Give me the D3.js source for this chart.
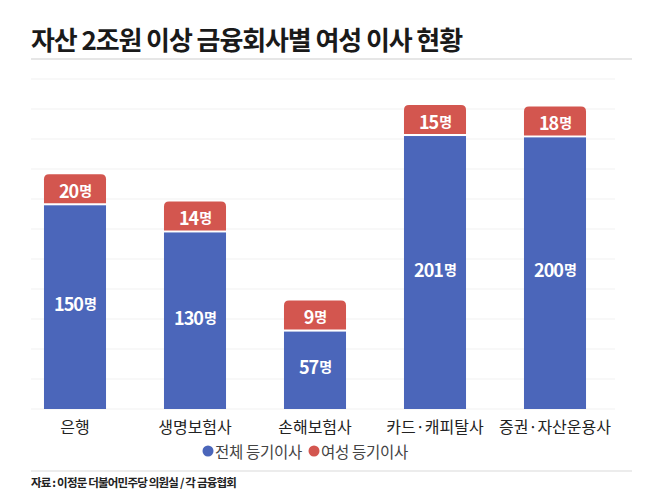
<!DOCTYPE html>
<html><head><meta charset="utf-8">
<script src="https://cdn.jsdelivr.net/npm/d3@7"></script>
<style>
html,body{margin:0;padding:0;background:#fff;}
svg{display:block;font-family:"Noto Sans CJK KR","Noto Sans",sans-serif;}
</style></head>
<body><svg id="c" width="658" height="494"></svg>
<script>
const titleText = "자산 2조원 이상 금융회사별 여성 이사 현황";
const categories = ["은행","생명보험사","손해보험사","카드·캐피탈사","증권·자산운용사"];
const totalDirectors = [150,130,57,201,200];
const femaleDirectors = [20,14,9,15,18];
const seriesNames = ["전체 등기이사","여성 등기이사"];
const unit = "명";
const sourceText = "자료 : 이정문 더불어민주당 의원실 / 각 금융협회";

const colors = {blue:"#4b66ba", red:"#d3564f"};
const svg = d3.select("#c");

// title
svg.append("text").attr("x",31).attr("y",50)
  .attr("font-size",26).attr("font-weight",700).attr("fill","#1a1a1a")
  .attr("letter-spacing","-1.1px").text(titleText);
svg.append("line").attr("x1",31).attr("x2",632).attr("y1",59).attr("y2",59)
  .attr("stroke","#e6e6e6").attr("stroke-width",2);

// scales
const x = d3.scaleBand().domain(categories).range([15,615]).paddingInner(0.483).paddingOuter(0.2415);
const y = d3.scaleLinear().domain([0,243]).range([409,79]);

// gridlines
const grid = d3.scaleLinear().domain([0,11]).range([409,79]);
svg.append("g").selectAll("line").data(d3.range(12)).join("line")
  .attr("x1",31).attr("x2",615)
  .attr("y1",d=>grid(d)).attr("y2",d=>grid(d))
  .attr("stroke","#f1f1f1").attr("stroke-width",1);

const data = categories.map((c,i)=>({c, t:totalDirectors[i], f:femaleDirectors[i]}));
const gap = 2, minRed = 29, r = 5;

const g = svg.append("g");
// blue bars
g.selectAll("rect.blue").data(data).join("rect").attr("class","blue")
  .attr("x",d=>x(d.c)).attr("width",x.bandwidth())
  .attr("y",d=>y(d.t)).attr("height",d=>y(0)-y(d.t))
  .attr("fill",colors.blue);

// red segments with rounded top
function redGeom(d){
  const h = Math.max(y(0)-y(d.f), minRed);
  const bottom = y(d.t)-gap;
  return {top:bottom-h, bottom, h};
}
g.selectAll("path.red").data(data).join("path").attr("class","red")
  .attr("d",d=>{
    const {top,bottom} = redGeom(d);
    const x0 = x(d.c), x1 = x0 + x.bandwidth();
    return `M${x0},${bottom}V${top+r}Q${x0},${top} ${x0+r},${top}H${x1-r}Q${x1},${top} ${x1},${top+r}V${bottom}Z`;
  }).attr("fill",colors.red);

function label(sel, num, big, small){
  sel.append("tspan").attr("font-size",big).text(num);
  sel.append("tspan").attr("font-size",small).attr("dx",1).text(unit);
}
// blue labels
g.selectAll("text.bl").data(data).join("text").attr("class","bl")
  .attr("x",d=>x(d.c)+x.bandwidth()/2)
  .attr("y",d=>(y(d.t)+y(0))/2 - 4)
  .attr("text-anchor","middle").attr("dominant-baseline","central")
  .attr("fill","#fff").attr("font-weight",700).attr("letter-spacing","-1px")
  .each(function(d){ label(d3.select(this), d.t, 18, 14); });
// red labels
g.selectAll("text.rl").data(data).join("text").attr("class","rl")
  .attr("x",d=>x(d.c)+x.bandwidth()/2)
  .attr("y",d=>{const q=redGeom(d); return (q.top+q.bottom)/2+1;})
  .attr("text-anchor","middle").attr("dominant-baseline","central")
  .attr("fill","#fff").attr("font-weight",700).attr("letter-spacing","-1px")
  .each(function(d){ label(d3.select(this), d.f, 18, 14); });

// category axis labels
svg.append("g").selectAll("text").data(categories).join("text")
  .attr("x",d=>x(d)+x.bandwidth()/2).attr("y",426)
  .attr("text-anchor","middle").attr("dominant-baseline","central")
  .attr("font-size",16).attr("fill","#222").text(d=>d);

// legend
const leg = svg.append("g").attr("transform","translate(0,451)");
const items = [{n:seriesNames[0],c:colors.blue,x:208},{n:seriesNames[1],c:colors.red,x:314}];
items.forEach(it=>{
  leg.append("circle").attr("cx",it.x).attr("cy",0).attr("r",5.5).attr("fill",it.c);
  leg.append("text").attr("x",it.x+7).attr("y",0).attr("dominant-baseline","central")
    .attr("font-size",15.5).attr("fill","#444").attr("letter-spacing","-0.3px").text(it.n);
});

// source
svg.append("line").attr("x1",31).attr("x2",632).attr("y1",471).attr("y2",471)
  .attr("stroke","#e6e6e6").attr("stroke-width",1.5);
svg.append("text").attr("x",31).attr("y",482).attr("dominant-baseline","central")
  .attr("font-size",11.5).attr("font-weight",700).attr("fill","#222")
  .attr("letter-spacing","-0.8px").text(sourceText);
</script></body></html>
